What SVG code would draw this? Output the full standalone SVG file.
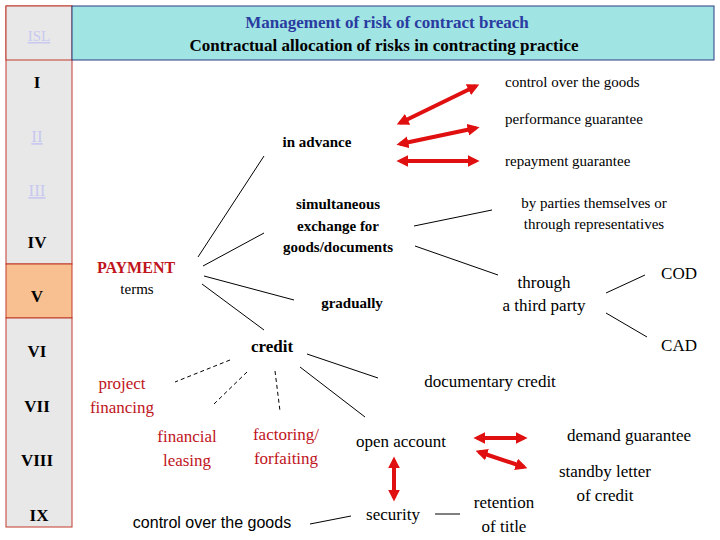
<svg xmlns="http://www.w3.org/2000/svg" width="720" height="540" viewBox="0 0 720 540" font-family="'Liberation Serif','Times New Roman','DejaVu Serif',serif">
<style>
text{font-family:'Liberation Serif','Times New Roman','DejaVu Serif',serif;fill:#000}
.b{font-weight:bold}
.r{fill:#c0141c}
.n{font-size:17px;text-anchor:middle;font-weight:bold}
.ln{stroke:#000;stroke-width:1;fill:none}
.d{stroke-dasharray:4,3}
.ar{stroke:#e01010;stroke-width:4;marker-start:url(#h);marker-end:url(#h)}
.sans{font-family:'Liberation Sans',Arial,sans-serif}
</style>
<defs><marker id="h" viewBox="0 0 10 10" refX="7" refY="5" markerWidth="3" markerHeight="3" orient="auto-start-reverse"><path d="M0,0L10,5L0,10z" fill="#e01010"/></marker></defs>
<rect width="720" height="540" fill="#fff"/>
<g id="sidebar">
<rect x="6" y="6" width="66" height="258" fill="#e8e8e8" stroke="#c0392b"/>
<rect x="6" y="6" width="66" height="54" fill="#e8e8e8" stroke="#c0392b"/>
<rect x="6" y="264" width="66" height="54" fill="#f8c090" stroke="#c0392b"/>
<rect x="6" y="318" width="66" height="209" fill="#e8e8e8" stroke="#c0392b"/>
<text x="39" y="41" class="n" style="fill:#c8c8f0;text-decoration:underline;font-weight:normal;font-size:15px">ISL</text>
<text x="37" y="88" class="n">I</text>
<text x="37" y="142" class="n" style="fill:#c8c8f0;text-decoration:underline;font-weight:normal">II</text>
<text x="37" y="196" class="n" style="fill:#c8c8f0;text-decoration:underline;font-weight:normal">III</text>
<text x="37" y="248" class="n">IV</text>
<text x="37" y="302" class="n">V</text>
<text x="37" y="357" class="n">VI</text>
<text x="37" y="412" class="n">VII</text>
<text x="37" y="466" class="n">VIII</text>
<text x="39" y="521" class="n">IX</text>
</g>
<g id="header">
<rect x="72" y="6" width="642" height="54" fill="#a0e4e4" stroke="#2a3c80"/>
<text x="387" y="28" text-anchor="middle" class="b" font-size="17" style="fill:#2a3ca0">Management of risk of contract breach</text>
<text x="384" y="51" text-anchor="middle" class="b" font-size="17">Contractual allocation of risks in contracting practice</text>
</g>
<g id="connectors">
<path class="ln" d="M198,257L264,156M203,266L264,233M204,276L294,300M202,284L264,330M307,354L378,378M300,367L365,417M310,524L351,516M414,226L492,210M415,246L498,275M606,293L645,275M606,313L647,337M435,514L460,514"/>
<path class="ln d" d="M230,360L175,382M247,372L214,404M275,371L280,411"/>
<line class="ar" x1="400" y1="123" x2="476" y2="86"/>
<line class="ar" x1="400" y1="144" x2="476" y2="128"/>
<line class="ar" x1="400" y1="161" x2="476" y2="161"/>
<line class="ar" x1="477" y1="438" x2="524" y2="438"/>
<line class="ar" x1="479" y1="452" x2="524" y2="467"/>
<line class="ar" x1="394" y1="460" x2="394" y2="498"/>
</g>
<g id="nodes" font-size="16">
<text x="505" y="87" font-size="15">control over the goods</text>
<text x="505" y="124" font-size="15">performance guarantee</text>
<text x="505" y="166" font-size="15">repayment guarantee</text>
<text x="317" y="147" text-anchor="middle" class="b" font-size="15">in advance</text>
<text x="338" y="209" text-anchor="middle" class="b" font-size="15">simultaneous</text>
<text x="338" y="231" text-anchor="middle" class="b" font-size="15">exchange for</text>
<text x="338" y="252" text-anchor="middle" class="b" font-size="15">goods/documents</text>
<text x="136" y="273" text-anchor="middle" class="b r" font-size="16">PAYMENT</text>
<text x="137" y="294" text-anchor="middle" font-size="15">terms</text>
<text x="352" y="308" text-anchor="middle" class="b" font-size="15">gradually</text>
<text x="272" y="352" text-anchor="middle" class="b" font-size="17">credit</text>
<text x="594" y="208" text-anchor="middle" font-size="15">by parties themselves or</text>
<text x="594" y="229" text-anchor="middle" font-size="15">through representatives</text>
<text x="544" y="288" text-anchor="middle" font-size="17">through</text>
<text x="544" y="311" text-anchor="middle" font-size="17">a third party</text>
<text x="679" y="279" text-anchor="middle" font-size="17">COD</text>
<text x="679" y="351" text-anchor="middle" font-size="17">CAD</text>
<text x="490" y="387" text-anchor="middle" font-size="17">documentary credit</text>
<text x="122" y="389" text-anchor="middle" class="r" font-size="17">project</text>
<text x="122" y="413" text-anchor="middle" class="r" font-size="17">financing</text>
<text x="187" y="442" text-anchor="middle" class="r" font-size="17">financial</text>
<text x="187" y="466" text-anchor="middle" class="r" font-size="17">leasing</text>
<text x="286" y="440" text-anchor="middle" class="r" font-size="17">factoring/</text>
<text x="286" y="464" text-anchor="middle" class="r" font-size="17">forfaiting</text>
<text x="401" y="447" text-anchor="middle" font-size="17">open account</text>
<text x="629" y="441" text-anchor="middle" font-size="17">demand guarantee</text>
<text x="605" y="477" text-anchor="middle" font-size="17">standby letter</text>
<text x="605" y="501" text-anchor="middle" font-size="17">of credit</text>
<text x="504" y="508" text-anchor="middle" font-size="17">retention</text>
<text x="504" y="532" text-anchor="middle" font-size="17">of title</text>
<text x="393" y="520" text-anchor="middle" font-size="17">security</text>
<text x="212" y="528" text-anchor="middle" class="sans" font-size="16">control over the goods</text>
</g>
</svg>
